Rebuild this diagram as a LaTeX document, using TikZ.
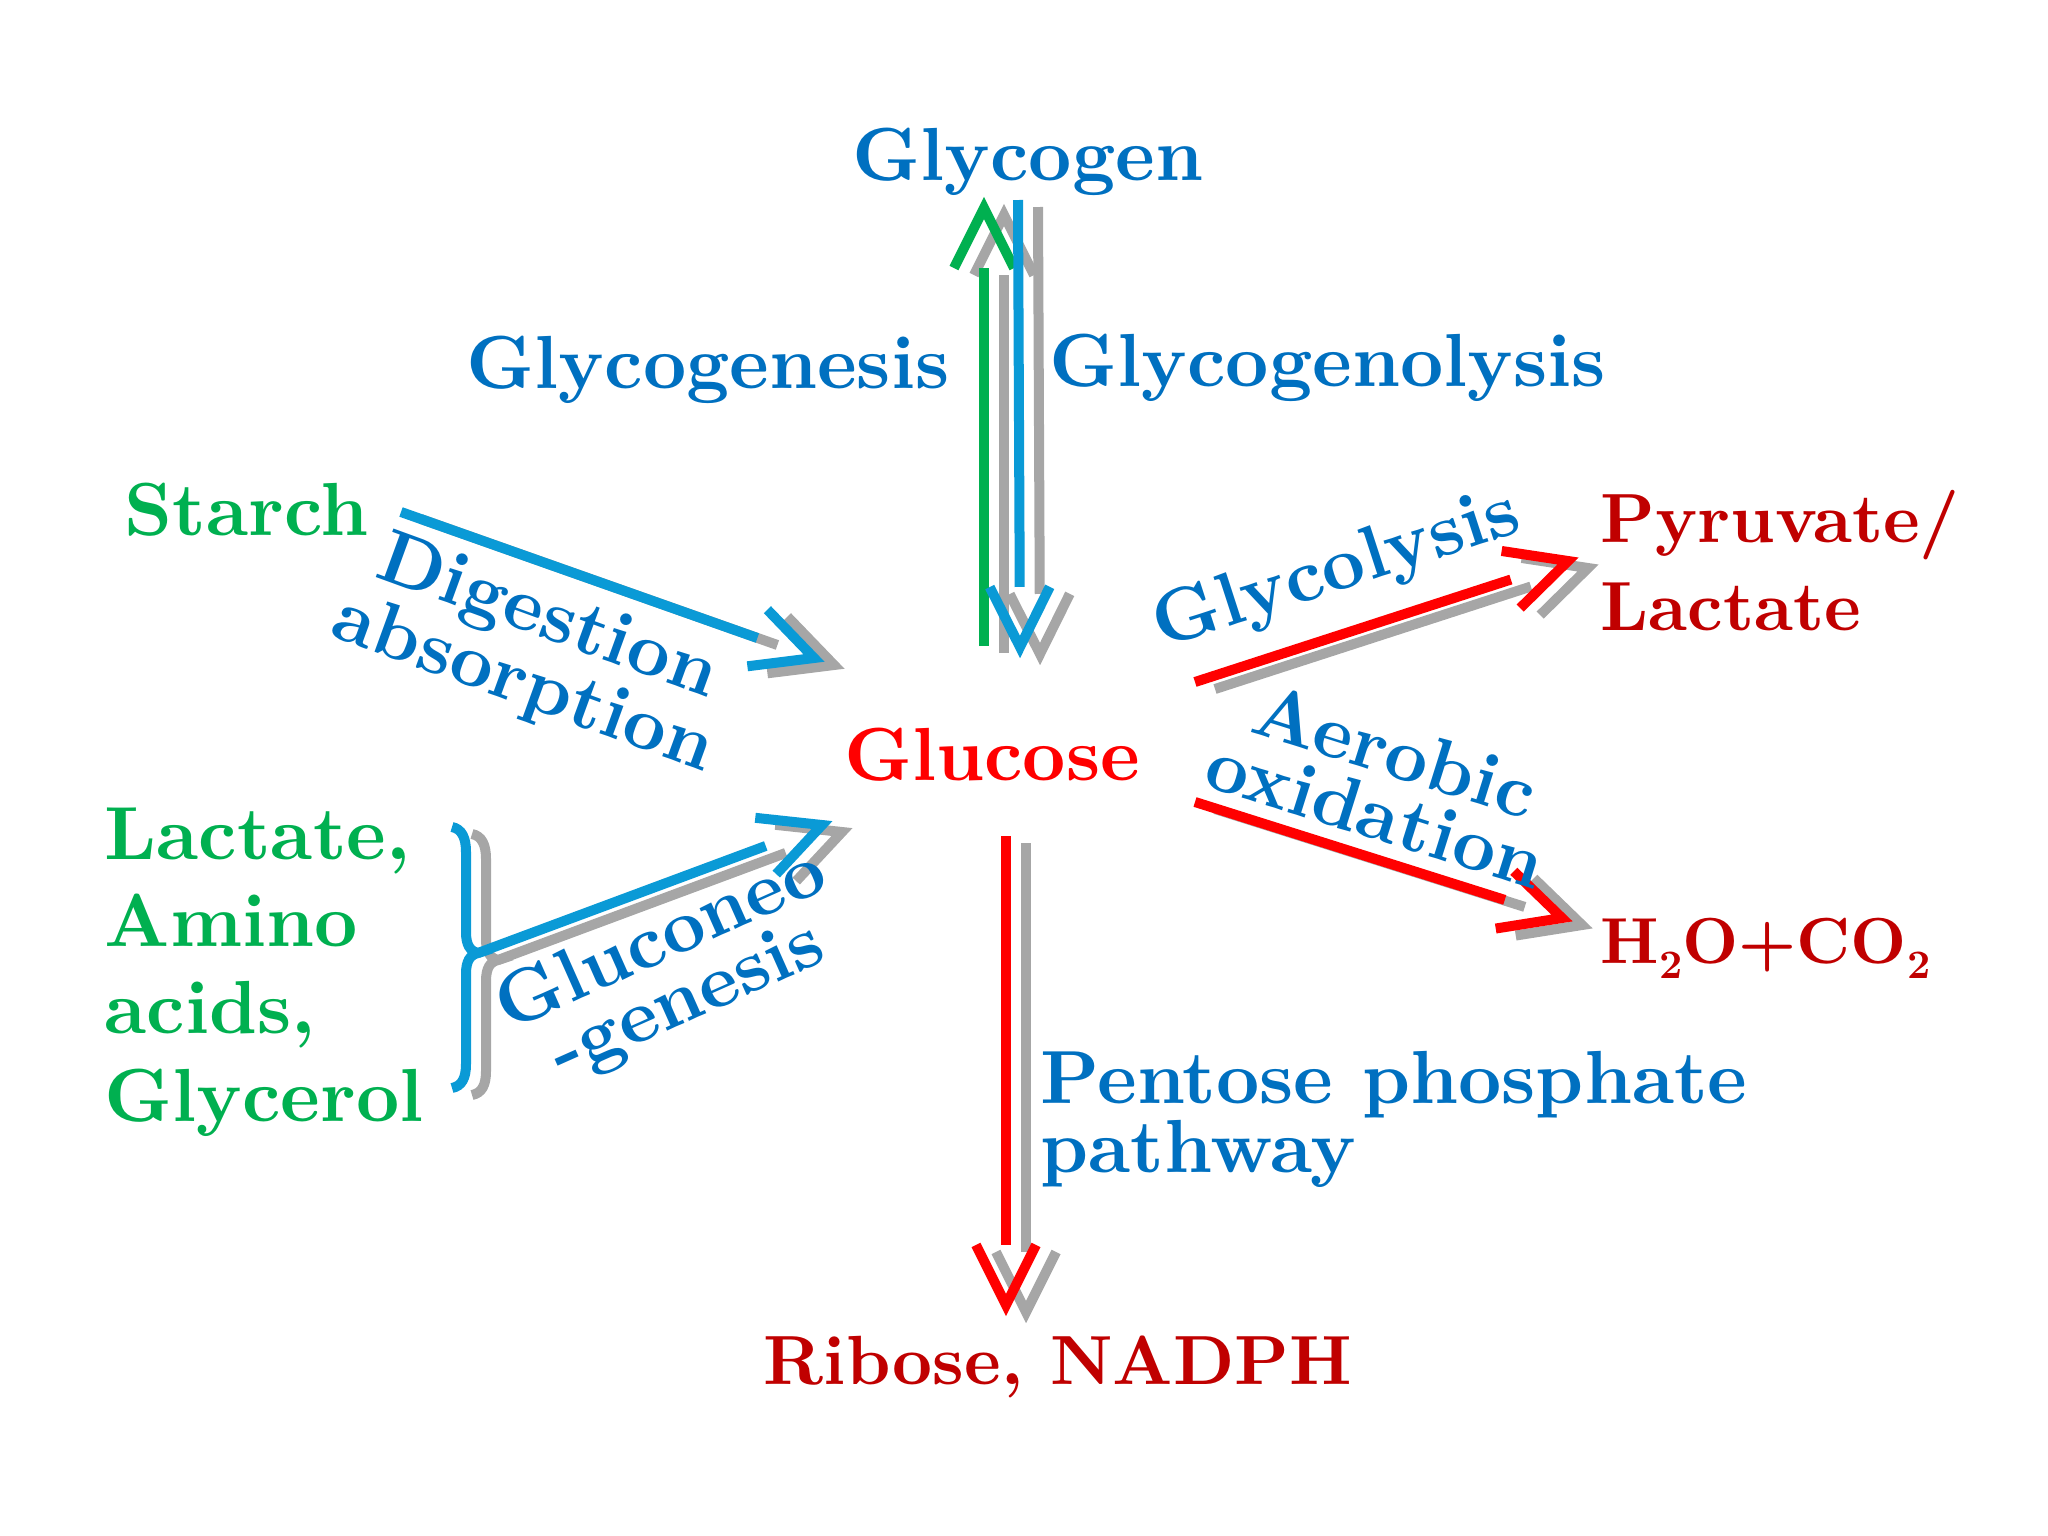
\documentclass[tikz,border=0pt]{standalone}
\usepackage{tikz}
\usetikzlibrary{calc}
% bold face at the 10pt design size for every size
\DeclareFontShape{TU}{lmr}{bx}{n}{<-> "[lmroman10-bold]"}{}
\definecolor{txtblue}{HTML}{0070C0}
\definecolor{arrblue}{HTML}{0A9AD6}
\definecolor{pathgreen}{HTML}{00B050}
\definecolor{pathred}{HTML}{FF0000}
\definecolor{prodred}{HTML}{C00000}
\definecolor{shadowgray}{HTML}{A6A6A6}
\tikzset{
  flow/.style={line width=1mm, line cap=butt, line join=miter},
  lbl/.style={font=\fontsize{21.4}{24.8}\selectfont\bfseries, inner sep=0pt},
  prod/.style={lbl, prodred, font=\fontsize{19.8}{25}\selectfont\bfseries},
  rlbl/.style={lbl, txtblue, align=center, font=\fontsize{21.4}{18.5}\selectfont\bfseries},
}
% lowered chemical index
\newcommand{\chemsub}[1]{\raisebox{-0.24em}{\fontsize{11.5}{12}\selectfont #1}}
% shaft + open chevron, the shaft stops at the base of the chevron
\newcommand{\flowpath}[3]{%
  \draw[flow,#1] (#2) -- ($(#3)!6mm!(#2)$);
  \draw[flow,#1] ($(#3)!6mm!(#2)!3mm!90:(#2)$) -- (#3) -- ($(#3)!6mm!(#2)!3mm!-90:(#2)$);
}
% curly bracket gathering the gluconeogenic precursors
\newcommand{\bracepath}[1]{%
  \draw[flow,#1] (452,827) .. controls (462,829) and (466,838) .. (466,852)
    -- (466,932) .. controls (466,945) and (470,951) .. (478,953)
    .. controls (470,955) and (466,961) .. (466,974)
    -- (466,1064) .. controls (466,1078) and (462,1086) .. (452,1088);
}

\begin{document}
\begin{tikzpicture}[x=0.01cm,y=-0.01cm]
\useasboundingbox (0,0) rectangle (2048,1536);
% end points of the flows (pixel grid, y pointing down)
\coordinate (gnA) at (984,646);  % glycogenesis
\coordinate (gnB) at (984,208);
\coordinate (glA) at (1018,200); % glycogenolysis
\coordinate (glB) at (1020,647);
\coordinate (dgA) at (401,512);  % digestion
\coordinate (dgB) at (814,658);
\coordinate (ngA) at (478,953);  % gluconeogenesis
\coordinate (ngB) at (822,825);
\coordinate (gyA) at (1195,682); % glycolysis
\coordinate (gyB) at (1568,561);
\coordinate (aoA) at (1195,802); % aerobic oxidation
\coordinate (aoB) at (1562,918);
\coordinate (ppA) at (1006,836); % pentose phosphate
\coordinate (ppB) at (1006,1305);
% grey shadows
\begin{scope}[transform canvas={xshift=2mm,yshift=-0.7mm}]
  \foreach \a/\b in {gnA/gnB,glA/glB,dgA/dgB,ngA/ngB,gyA/gyB,aoA/aoB,ppA/ppB}
    {\flowpath{shadowgray}{\a}{\b}}
  \bracepath{shadowgray}
\end{scope}
% coloured flows
\flowpath{pathgreen}{gnA}{gnB}
\flowpath{arrblue}{glA}{glB}
\flowpath{arrblue}{dgA}{dgB}
\bracepath{arrblue}
\flowpath{arrblue}{ngA}{ngB}
\flowpath{pathred}{gyA}{gyB}
\flowpath{pathred}{aoA}{aoB}
\flowpath{pathred}{ppA}{ppB}
% labels
\node[lbl,txtblue,anchor=base] (glycogen) at (1028,180) {Glycogen};
\node[lbl,txtblue,anchor=base east] (genesis) at (950,388) {Glycogenesis};
\node[lbl,txtblue,anchor=base west] (lysis) at (1049,386) {Glycogenolysis};
\node[lbl,pathgreen,anchor=base west] (starch) at (124,535) {Starch};
\node[rlbl,rotate=-20] (digest) at (535,653) {Digestion\\absorption};
\node[lbl,pathred,anchor=base] (glucose) at (992,780) {Glucose};
\node[rlbl,rotate=18] (glycolysis) at (1337,572) {Glycolysis};
\node[prod,anchor=base west,align=left] (pyruvate) at (1600,630) {Pyruvate/\\Lactate};
\node[rlbl,rotate=-17.5] (aerobic) at (1386,782) {Aerobic\\oxidation};
\node[prod,anchor=base west,font=\fontsize{18.5}{22}\selectfont\bfseries] (water) at (1600,963) {H\chemsub{2}O+CO\chemsub{2}};
\node[lbl,txtblue,anchor=base west,align=left,font=\fontsize{21.4}{19.4}\selectfont\bfseries] (ppp) at (1040,1172) {Pentose phosphate\\pathway};
\node[prod,anchor=base] (ribose) at (1058,1384) {Ribose, NADPH};
\node[lbl,pathgreen,anchor=base west,align=left] (precursors) at (104,1121) {Lactate,\\Amino\\acids,\\Glycerol};
\node[rlbl,rotate=24] (gluconeo) at (675,972) {Gluconeo\\-genesis};
\end{tikzpicture}
\end{document}
